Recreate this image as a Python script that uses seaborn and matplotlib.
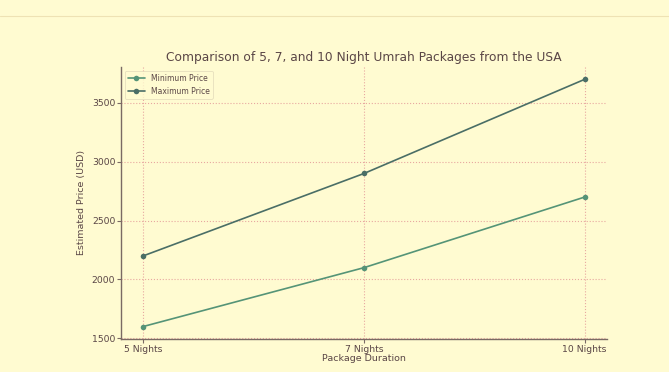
import pandas as pd
import seaborn as sns
import matplotlib.pyplot as plt
from matplotlib.lines import Line2D

durations = ["5 Nights", "7 Nights", "10 Nights"]
min_price = [1600, 2100, 2700]
max_price = [2200, 2900, 3700]

bg = "#fffbd1"
text_col = "#5a4646"

sns.set_theme(style="white")
plt.rcParams["font.family"] = ["DejaVu Sans"]

df = pd.DataFrame({
    "Package Duration": durations * 2,
    "Price": min_price + max_price,
    "Series": ["Minimum Price"] * 3 + ["Maximum Price"] * 3,
})

fig = plt.figure(figsize=(6.69, 3.72), dpi=100, facecolor=bg)
ax = fig.add_axes([0.181, 0.089, 0.726, 0.731])
ax.set_facecolor(bg)

sns.lineplot(df, x="Package Duration", y="Price", hue="Series",
             palette=["#559477", "#4a6e66"], marker="o", markersize=4,
             markeredgewidth=0, linewidth=1.2, ax=ax)

ax.set_yticks([1500, 2000, 2500, 3000, 3500])
ax.grid(True, linestyle=":", color="#e8a8a0", linewidth=0.8)
for s in ["top", "right"]:
    ax.spines[s].set_visible(False)
for s in ["left", "bottom"]:
    ax.spines[s].set_color("#7a6a64")
    ax.spines[s].set_linewidth(1.0)
ax.tick_params(axis="both", colors=text_col, labelsize=6.7, length=3,
               width=0.8, color="#7a6a64", left=True, bottom=True, pad=1.2)

ax.set_title("Comparison of 5, 7, and 10 Night Umrah Packages from the USA",
             fontsize=8.8, color=text_col, pad=4)
ax.set_xlabel("Package Duration", fontsize=6.8, color=text_col, labelpad=0)
ax.set_ylabel("Estimated Price (USD)", fontsize=6.8, color=text_col, labelpad=4)

leg = ax.legend(loc="upper left", fontsize=5.5, frameon=True, facecolor=bg,
                edgecolor="#e0d8b8", labelcolor=text_col, borderpad=0.4,
                handlelength=2.2)
leg.get_frame().set_linewidth(0.6)

fig.add_artist(Line2D([0, 1], [1 - 16 / 372, 1 - 16 / 372],
                      transform=fig.transFigure, color="#eee2b4", linewidth=0.8))

fig.savefig("out.png", dpi=100, facecolor=bg)
